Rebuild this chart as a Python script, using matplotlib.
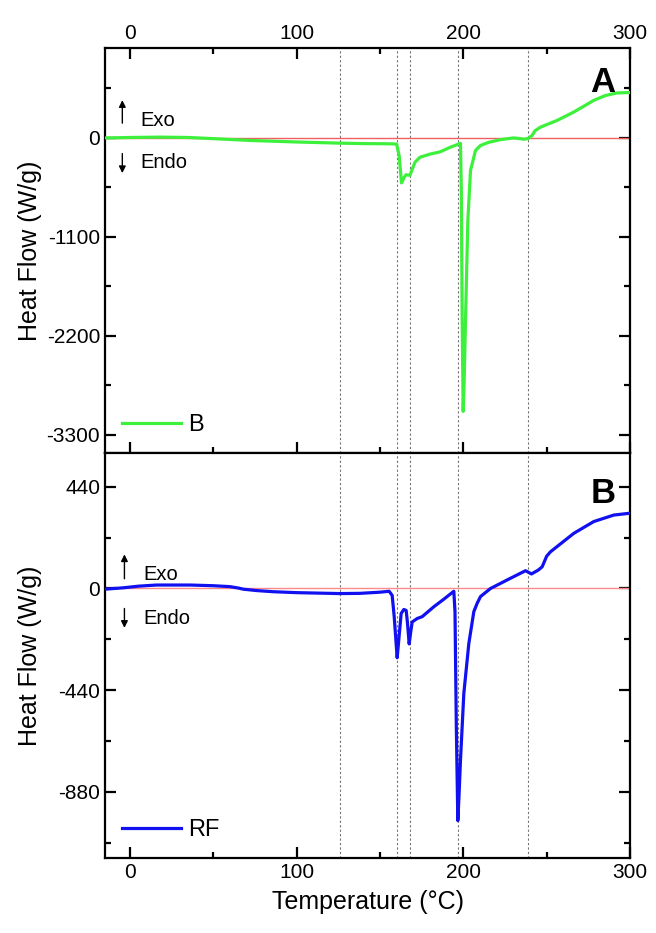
import matplotlib
matplotlib.use('Agg')
import matplotlib.pyplot as plt
from matplotlib.ticker import MultipleLocator

plt.rcParams['font.family'] = ['Liberation Sans', 'DejaVu Sans']
plt.rcParams['axes.unicode_minus'] = False

# ---- data ----
temp_b = [-15, -8, 0, 18, 35, 50, 72, 100, 126, 140, 155, 160, 161.5, 162.9, 164.5,
          165.5, 168, 169.5, 171, 174, 180, 186, 192, 198.3, 198.8, 199.3, 199.9,
          200.5, 201.3, 202.7, 204.3, 207.3, 210.3, 215, 222, 230, 233, 236.5, 239,
          241.3, 243, 246.3, 256.3, 266.3, 278.3, 285, 292, 300]
hf_b = [0, 2, 5, 9, 5, -8, -28, -45, -58, -63, -65, -68, -200, -500, -440,
        -410, -415, -340, -270, -215, -180, -155, -105, -60, -600, -2000, -3040,
        -2700, -2035, -920, -362, -140, -84, -50, -20, 0, -5, -15, -5,
        28, 80, 120, 195, 288, 418, 470, 500, 505]

temp_rf = [-15, -4, 5, 16, 36, 50, 60, 65, 68, 76, 86, 100, 126, 138, 150, 155.5,
           157.3, 158.5, 160.3, 161.3, 162.7, 164.3, 165.7, 166.5, 167.5, 168.4,
           169.3, 172.3, 175.3, 182.3, 188, 194.3, 195, 195.8, 196.7, 197.4, 198.3,
           200.3, 203.3, 206.3, 208.3, 210.3, 216.3, 226.3, 237.3, 240.9, 245,
           247.3, 250, 252.3, 266.3, 278.3, 290.3, 300]
hf_rf = [-3, 3, 10, 15, 15, 12, 8, 2, -3, -9, -14, -18, -22, -21, -16, -12,
         -30, -120, -300, -220, -108, -91, -95, -150, -240, -190,
         -145, -130, -122, -79, -48, -12, -100, -600, -1005, -900, -742,
         -454, -238, -100, -64, -35, 0, 37, 77, 63, 80,
         94, 140, 159, 239, 290, 318, 326]

guide_temps = [126, 160, 168, 197, 239]

W, H = 656, 933
fig = plt.figure(figsize=(W / 100, H / 100), dpi=100)
left, right = 105 / W, 630 / W
axA = fig.add_axes([left, 1 - 452.7 / H, right - left, (452.7 - 48) / H])
axB = fig.add_axes([left, 1 - 858 / H, right - left, (858 - 452.7) / H])

def style(ax):
    for s in ax.spines.values():
        s.set_linewidth(1.6)
    ax.set_xlim(-15, 300)
    ax.xaxis.set_major_locator(MultipleLocator(100))
    ax.xaxis.set_minor_locator(MultipleLocator(50))
    ax.tick_params(which='both', direction='in', width=1.6, labelsize=15)
    ax.tick_params(which='major', length=8)
    ax.tick_params(which='minor', length=4.5)
    for t in guide_temps:
        ax.axvline(t, color='0.45', lw=0.8, ls=(0, (2, 2)), zorder=1)

style(axA)
style(axB)

# panel A
axA.axhline(0, color='#f06060', lw=1, zorder=2)
axA.plot(temp_b, hf_b, color='#3cf03c', lw=2.3, label='B', zorder=3)
axA.set_ylim(-3500, 1000)
axA.yaxis.set_major_locator(MultipleLocator(1100))
axA.yaxis.set_minor_locator(MultipleLocator(550))
axA.tick_params(which='both', top=True, bottom=True, left=True, right=True,
                labeltop=True, labelbottom=False)
axA.set_ylabel('Heat Flow (W/g)', fontsize=18)
axA.yaxis.set_label_coords(-0.12, 0.5)
axA.legend(loc='lower left', frameon=False, fontsize=17, handlelength=2.5,
           borderaxespad=0.3, handletextpad=0.3)
axA.text(0.972, 0.955, 'A', transform=axA.transAxes, ha='right', va='top',
         fontsize=25, fontweight='bold')

# panel B
axB.axhline(0, color='#ff8a8a', lw=1, zorder=2)
axB.plot(temp_rf, hf_rf, color='#1010f0', lw=2.3, label='RF', zorder=3)
axB.set_ylim(-1167, 588)
axB.yaxis.set_major_locator(MultipleLocator(440))
axB.yaxis.set_minor_locator(MultipleLocator(220))
axB.tick_params(which='both', top=False, bottom=True, left=True, right=True)
axB.set_ylabel('Heat Flow (W/g)', fontsize=18)
axB.yaxis.set_label_coords(-0.12, 0.5)
axB.set_xlabel('Temperature (°C)', fontsize=18, labelpad=6)
axB.legend(loc='lower left', frameon=False, fontsize=17, handlelength=2.5,
           borderaxespad=0.3, handletextpad=0.3)
axB.text(0.972, 0.94, 'B', transform=axB.transAxes, ha='right', va='top',
         fontsize=25, fontweight='bold')

# exo / endo markers
def exo_endo(ax, xa, up, down, xt, y_exo, y_endo):
    ax.annotate('', xy=(xa, up[1]), xytext=(xa, up[0]), xycoords='axes fraction',
                arrowprops=dict(arrowstyle='-|>', color='k', lw=1, mutation_scale=10))
    ax.annotate('', xy=(xa, down[1]), xytext=(xa, down[0]), xycoords='axes fraction',
                arrowprops=dict(arrowstyle='-|>', color='k', lw=1, mutation_scale=10))
    ax.text(xt, y_exo, 'Exo', transform=ax.transAxes, va='center', fontsize=14.5)
    ax.text(xt, y_endo, 'Endo', transform=ax.transAxes, va='center', fontsize=14.5)

exo_endo(axA, 0.033, (0.8075, 0.878), (0.746, 0.684), 0.068, 0.8216, 0.717)
exo_endo(axB, 0.037, (0.682, 0.756), (0.6225, 0.561), 0.073, 0.70, 0.5915)

fig.savefig('out.png', dpi=100)
